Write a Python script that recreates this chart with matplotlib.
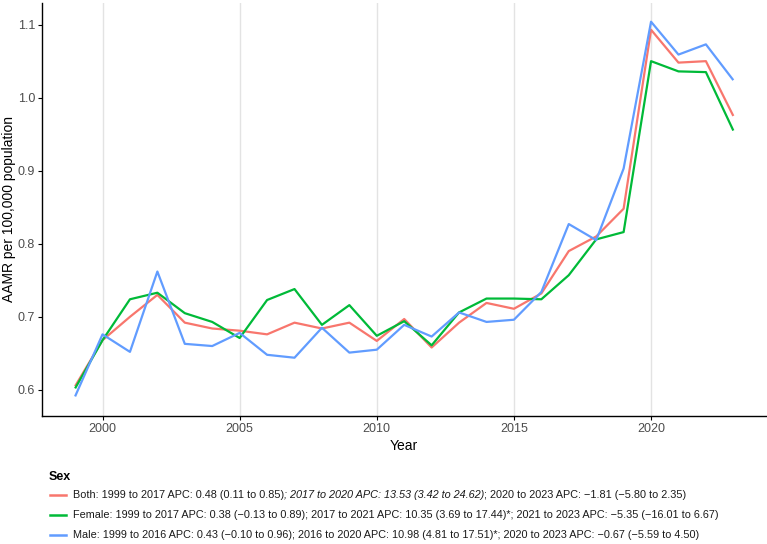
"""
AAMR por sexo, 1999-2023 (estilo ggplot reproducido con matplotlib)
"""

import matplotlib.pyplot as plt
from matplotlib.lines import Line2D

plt.rcParams['font.family'] = ['Liberation Sans', 'DejaVu Sans']

# Datos
years = list(range(1999, 2024))
both = [0.605, 0.668, 0.700, 0.730, 0.692, 0.684, 0.681, 0.676, 0.692, 0.684,
        0.692, 0.667, 0.697, 0.658, 0.692, 0.719, 0.711, 0.732, 0.790, 0.810,
        0.848, 1.093, 1.048, 1.050, 0.975]
female = [0.602, 0.668, 0.724, 0.733, 0.705, 0.693, 0.671, 0.723, 0.738, 0.689,
          0.716, 0.674, 0.694, 0.661, 0.706, 0.725, 0.725, 0.724, 0.757, 0.806,
          0.816, 1.050, 1.036, 1.035, 0.955]
male = [0.591, 0.676, 0.652, 0.762, 0.663, 0.660, 0.678, 0.648, 0.644, 0.685,
        0.651, 0.655, 0.689, 0.673, 0.706, 0.693, 0.696, 0.734, 0.827, 0.805,
        0.903, 1.104, 1.059, 1.073, 1.024]

series = [both, female, male]
colores = ['#F8766D', '#00BA38', '#619CFF']

# Texto de la leyenda: (trozo, cursiva)
leyenda = [
    [("Both: 1999 to 2017 APC: 0.48 (0.11 to 0.85)", False),
     ("; 2017 to 2020 APC: 13.53 (3.42 to 24.62)", True),
     ("; 2020 to 2023 APC: \u22121.81 (\u22125.80 to 2.35)", False)],
    [("Female: 1999 to 2017 APC: 0.38 (\u22120.13 to 0.89); 2017 to 2021 APC: 10.35 (3.69 to 17.44)*; "
      "2021 to 2023 APC: \u22125.35 (\u221216.01 to 6.67)", False)],
    [("Male: 1999 to 2016 APC: 0.43 (\u22120.10 to 0.96); 2016 to 2020 APC: 10.98 (4.81 to 17.51)*; "
      "2020 to 2023 APC: \u22120.67 (\u22125.59 to 4.50)", False)],
]

fig = plt.figure(figsize=(7.67, 5.44), dpi=100)
ax = fig.add_axes([0.055, 0.235, 0.944, 0.76])

for vals, c in zip(series, colores):
    ax.plot(years, vals, color=c, linewidth=1.6, solid_capstyle='butt')

ax.set_xlim(1997.8, 2024.2)
ax.set_ylim(0.564, 1.13)
ax.set_xticks([2000, 2005, 2010, 2015, 2020])
ax.set_yticks([0.6, 0.7, 0.8, 0.9, 1.0, 1.1])
ax.set_yticklabels(['0.6', '0.7', '0.8', '0.9', '1.0', '1.1'])

ax.grid(axis='x', color='#E3E3E3', linewidth=1)
ax.set_axisbelow(True)
for s in ['top', 'right']:
    ax.spines[s].set_visible(False)
for s in ['left', 'bottom']:
    ax.spines[s].set_linewidth(1.0)
ax.tick_params(axis='both', length=3, width=0.8, labelsize=9, labelcolor='#4D4D4D', pad=2)

ax.set_xlabel('Year', fontsize=10, labelpad=3)
ax.set_ylabel('AAMR per 100,000 population', fontsize=10)
ax.yaxis.set_label_coords(-0.036, 0.5)

# Leyenda inferior
fig.text(49 / 767, 1 - 477 / 544, 'Sex', fontsize=9, fontweight='bold', va='center')
filas_y = [495, 515, 535]
for fila, c, yp in zip(leyenda, colores, filas_y):
    yf = 1 - yp / 544
    fig.add_artist(Line2D([50 / 767, 66 / 767], [yf, yf], color=c, linewidth=1.8,
                          transform=fig.transFigure))
    ultimo = None
    for trozo, cursiva in fila:
        estilo = 'italic' if cursiva else 'normal'
        if ultimo is None:
            ultimo = fig.text(73 / 767, yf, trozo, fontsize=7.8, style=estilo,
                              va='center', ha='left', color='#1A1A1A')
        else:
            ultimo = ax.annotate(trozo, xy=(1, 0.5), xycoords=ultimo, fontsize=7.8,
                                 style=estilo, va='center', ha='left',
                                 color='#1A1A1A', annotation_clip=False)

fig.savefig('out.png', dpi=100)
